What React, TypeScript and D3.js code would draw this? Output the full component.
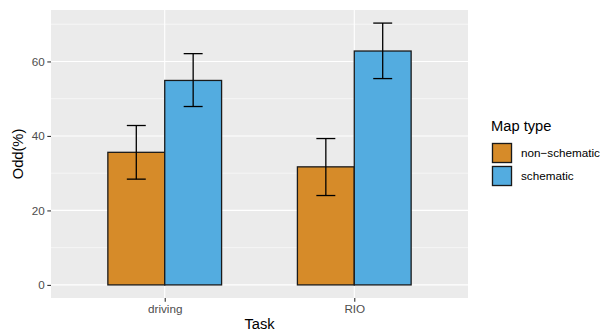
import { useEffect, useRef } from 'react';
import * as d3 from 'd3';

const tasks = ['driving', 'RIO'];
const mapTypes = ['non\u2212schematic', 'schematic'];
const nonSchematic = [35.6, 31.7];
const nonSchematicLow = [28.4, 24.0];
const nonSchematicHigh = [42.8, 39.3];
const schematic = [54.9, 62.8];
const schematicLow = [47.9, 55.4];
const schematicHigh = [62.1, 70.3];
const yTicks = [0, 20, 40, 60];
const yMinor = [10, 30, 50, 70];
const colors = ['#D68B29', '#53ACE0'];

export default function App() {
  const svgRef = useRef<SVGSVGElement>(null);

  useEffect(() => {
    const width = 606;
    const height = 335;
    const panel = { left: 51, right: 468, top: 10, bottom: 298 };
    const font = '"Liberation Sans", Arial, sans-serif';

    const svg = d3.select(svgRef.current)
      .attr('width', width)
      .attr('height', height);
    svg.selectAll('*').remove();

    const rows = tasks.flatMap((t, i) => [
      { task: t, type: mapTypes[0], value: nonSchematic[i], lo: nonSchematicLow[i], hi: nonSchematicHigh[i] },
      { task: t, type: mapTypes[1], value: schematic[i], lo: schematicLow[i], hi: schematicHigh[i] },
    ]);

    const maxV = d3.max(rows, d => d.hi) as number;
    const pad = maxV * 0.05;
    const y = d3.scaleLinear()
      .domain([-pad, maxV + pad])
      .range([panel.bottom, panel.top]);

    const x = d3.scalePoint()
      .domain(tasks)
      .range([panel.left, panel.right])
      .padding(0.6);
    const step = x.step();

    const dodge = d3.scaleBand()
      .domain(mapTypes)
      .range([-0.3 * step, 0.3 * step]);

    const color = d3.scaleOrdinal<string>().domain(mapTypes).range(colors);

    // panel background + grid
    svg.append('rect')
      .attr('x', panel.left)
      .attr('y', panel.top)
      .attr('width', panel.right - panel.left)
      .attr('height', panel.bottom - panel.top)
      .attr('fill', '#EBEBEB');

    svg.selectAll('line.minor')
      .data(yMinor)
      .enter()
      .append('line')
      .attr('x1', panel.left)
      .attr('x2', panel.right)
      .attr('y1', d => y(d))
      .attr('y2', d => y(d))
      .attr('stroke', '#fff')
      .attr('stroke-width', 0.55);

    svg.selectAll('line.major')
      .data(yTicks)
      .enter()
      .append('line')
      .attr('x1', panel.left)
      .attr('x2', panel.right)
      .attr('y1', d => y(d))
      .attr('y2', d => y(d))
      .attr('stroke', '#fff')
      .attr('stroke-width', 1.1);

    svg.selectAll('line.xgrid')
      .data(tasks)
      .enter()
      .append('line')
      .attr('x1', d => x(d) as number)
      .attr('x2', d => x(d) as number)
      .attr('y1', panel.top)
      .attr('y2', panel.bottom)
      .attr('stroke', '#fff')
      .attr('stroke-width', 1.1);

    // bars
    svg.selectAll('rect.bar')
      .data(rows)
      .enter()
      .append('rect')
      .attr('x', d => (x(d.task) as number) + (dodge(d.type) as number))
      .attr('y', d => y(d.value))
      .attr('width', dodge.bandwidth())
      .attr('height', d => y(0) - y(d.value))
      .attr('fill', d => color(d.type))
      .attr('stroke', '#1a1a1a')
      .attr('stroke-width', 1.3);

    // error bars
    const capHalf = 0.05 * step;
    const eb = svg.selectAll('g.err')
      .data(rows)
      .enter()
      .append('g')
      .attr('stroke', '#000')
      .attr('stroke-width', 1.3);
    const cx = (d: typeof rows[number]) =>
      (x(d.task) as number) + (dodge(d.type) as number) + dodge.bandwidth() / 2;
    eb.append('line')
      .attr('x1', cx).attr('x2', cx)
      .attr('y1', d => y(d.lo)).attr('y2', d => y(d.hi));
    eb.append('line')
      .attr('x1', d => cx(d) - capHalf).attr('x2', d => cx(d) + capHalf)
      .attr('y1', d => y(d.lo)).attr('y2', d => y(d.lo));
    eb.append('line')
      .attr('x1', d => cx(d) - capHalf).attr('x2', d => cx(d) + capHalf)
      .attr('y1', d => y(d.hi)).attr('y2', d => y(d.hi));

    // axes
    const yAxis = svg.append('g')
      .attr('transform', `translate(${panel.left}, 0)`)
      .call(d3.axisLeft(y).tickValues(yTicks).tickSize(3.7).tickPadding(2.5));
    const xAxis = svg.append('g')
      .attr('transform', `translate(0, ${panel.bottom})`)
      .call(d3.axisBottom(x).tickSize(3.7).tickPadding(2.5));
    [yAxis, xAxis].forEach(g => {
      g.select('.domain').remove();
      g.selectAll('.tick line').attr('stroke', '#333').attr('stroke-width', 1.1);
      g.selectAll('.tick text')
        .attr('fill', '#4D4D4D')
        .style('font-family', font)
        .style('font-size', '11.7px');
    });

    svg.append('text')
      .attr('x', (panel.left + panel.right) / 2)
      .attr('y', 329)
      .attr('text-anchor', 'middle')
      .style('font-family', font)
      .style('font-size', '14.7px')
      .attr('fill', '#000')
      .text('Task');

    svg.append('text')
      .attr('transform', `translate(23, ${(panel.top + panel.bottom) / 2}) rotate(-90)`)
      .attr('text-anchor', 'middle')
      .style('font-family', font)
      .style('font-size', '14.7px')
      .attr('fill', '#000')
      .text('Odd(%)');

    // legend
    const legend = svg.append('g').attr('transform', 'translate(491, 0)');
    legend.append('text')
      .attr('x', 0)
      .attr('y', 131)
      .style('font-family', font)
      .style('font-size', '14.7px')
      .attr('fill', '#000')
      .text('Map type');
    const keys = legend.selectAll('g.key')
      .data(mapTypes)
      .enter()
      .append('g')
      .attr('transform', (_, i) => `translate(0, ${142 + i * 23})`);
    keys.append('rect')
      .attr('x', 0.5)
      .attr('y', 0.5)
      .attr('width', 21)
      .attr('height', 21)
      .attr('fill', '#F2F2F2');
    keys.append('rect')
      .attr('x', 1.5)
      .attr('y', 1.5)
      .attr('width', 19)
      .attr('height', 19)
      .attr('fill', d => color(d))
      .attr('stroke', '#1a1a1a')
      .attr('stroke-width', 1.3);
    keys.append('text')
      .attr('x', 30)
      .attr('y', 11)
      .attr('dy', '0.35em')
      .style('font-family', font)
      .style('font-size', '11.7px')
      .attr('fill', '#000')
      .text(d => d);
  }, []);

  return <svg ref={svgRef} style={{ position: 'absolute', left: 0, top: 0 }}></svg>;
}
